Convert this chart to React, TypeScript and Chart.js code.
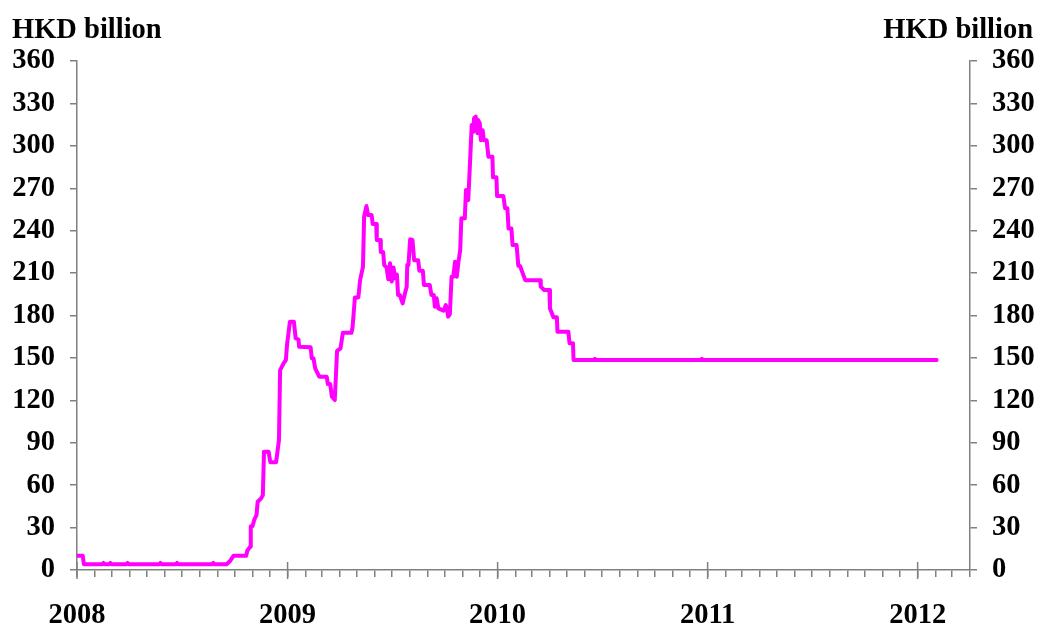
import React, { useEffect, useRef } from "react";
import { Chart, registerables } from "chart.js";

Chart.register(...registerables);

// Aggregate balance (HKD billion)
const dates: string[] = [
  "2008-01-01", "2008-01-11", "2008-01-13", "2008-02-14", "2008-02-16", "2008-02-18",
  "2008-02-26", "2008-02-28", "2008-03-01", "2008-03-27", "2008-03-29", "2008-03-31",
  "2008-05-23", "2008-05-25", "2008-05-27", "2008-06-21", "2008-06-23", "2008-06-25",
  "2008-08-23", "2008-08-25", "2008-08-27", "2008-09-17", "2008-09-23", "2008-09-29",
  "2008-10-21", "2008-10-23", "2008-10-28", "2008-10-29", "2008-11-01", "2008-11-04",
  "2008-11-08", "2008-11-10", "2008-11-16", "2008-11-19", "2008-11-21", "2008-11-29",
  "2008-12-02", "2008-12-12", "2008-12-17", "2008-12-19", "2008-12-25", "2008-12-29",
  "2008-12-31", "2009-01-05", "2009-01-12", "2009-01-15", "2009-01-20", "2009-01-21",
  "2009-02-10", "2009-02-12", "2009-02-15", "2009-02-18", "2009-02-25", "2009-03-10",
  "2009-03-12", "2009-03-16", "2009-03-19", "2009-03-24", "2009-03-28", "2009-04-03",
  "2009-04-07", "2009-04-22", "2009-04-24", "2009-04-28", "2009-05-04", "2009-05-07",
  "2009-05-12", "2009-05-14", "2009-05-18", "2009-05-21", "2009-05-27", "2009-05-29",
  "2009-06-04", "2009-06-05", "2009-06-11", "2009-06-12", "2009-06-16", "2009-06-18",
  "2009-06-22", "2009-06-25", "2009-06-28", "2009-07-01", "2009-07-04", "2009-07-07",
  "2009-07-10", "2009-07-12", "2009-07-15", "2009-07-20", "2009-07-24", "2009-07-27",
  "2009-07-28", "2009-07-30", "2009-08-02", "2009-08-06", "2009-08-09", "2009-08-16",
  "2009-08-18", "2009-08-24", "2009-08-26", "2009-09-05", "2009-09-08", "2009-09-12",
  "2009-09-14", "2009-09-17", "2009-09-20", "2009-09-29", "2009-10-03", "2009-10-06",
  "2009-10-07", "2009-10-10", "2009-10-13", "2009-10-16", "2009-10-19", "2009-10-22",
  "2009-10-25", "2009-10-28", "2009-10-30", "2009-11-05", "2009-11-07", "2009-11-11",
  "2009-11-14", "2009-11-17", "2009-11-20", "2009-11-21", "2009-11-24", "2009-11-27",
  "2009-11-28", "2009-12-01", "2009-12-03", "2009-12-06", "2009-12-08", "2009-12-13",
  "2009-12-16", "2009-12-23", "2009-12-24", "2009-12-30", "2009-12-31", "2010-01-11",
  "2010-01-14", "2010-01-18", "2010-01-20", "2010-01-25", "2010-01-27", "2010-02-03",
  "2010-02-06", "2010-02-09", "2010-02-18", "2010-03-16", "2010-03-17", "2010-03-23",
  "2010-04-01", "2010-04-02", "2010-04-08", "2010-04-14", "2010-04-15", "2010-05-04",
  "2010-05-06", "2010-05-12", "2010-05-13", "2010-06-17", "2010-06-19", "2010-06-21",
  "2010-12-20", "2010-12-22", "2010-12-24", "2012-02-03",
];

const values: number[] = [
  10, 10, 4, 4, 5, 4,
  4, 5, 4, 4, 5, 4,
  4, 5, 4, 4, 5, 4,
  4, 5, 4, 4, 6.4, 10,
  10, 13.6, 16.5, 31, 31, 35.4,
  38.9, 48.3, 50.7, 53, 83.7, 83.7,
  76.2, 76.2, 92, 141.4, 146.2, 148.5,
  159.1, 175.6, 175.6, 163.9, 163, 157.9,
  157.5, 149.7, 149.7, 142.6, 136.7, 136.7,
  131.5, 131.5, 122.6, 120.2, 155, 156.8,
  167.8, 167.8, 172, 192.8, 192.8, 205,
  214.5, 249.9, 257.4, 251, 251, 244.7,
  244.7, 233.4, 233.4, 225, 225, 215.7,
  214, 205.6, 217, 204, 214, 206.3,
  209, 194.5, 194.5, 188.6, 195.7, 200.4,
  215.7, 215.7, 233.9, 233.4, 219, 219,
  211.7, 211.7, 201.6, 201.6, 194.5, 194.5,
  186.2, 192.2, 185, 183.4, 187.4, 182,
  179.2, 181, 207.4, 207.4, 218, 207.4,
  218, 226.3, 248.7, 248.7, 268.7, 261.7,
  287.6, 314.7, 310, 319.5, 320.6, 308.9,
  318.3, 316, 304, 311, 304, 304,
  292.3, 292.3, 277.7, 277.7, 264.5, 264.5,
  255.8, 255.8, 241.6, 241.6, 229.8, 229.8,
  215.2, 215, 205, 205, 200.4, 198,
  198, 185, 178.7, 178.7, 168.5, 168.5,
  160.3, 160.3, 148.5, 148.5, 149.4, 148.5,
  148.5, 149.4, 148.5, 148.5,
];

const axisStart = "2008-01-01";
const axisEnd = "2012-04-01";
const yTicks: number[] = [0, 30, 60, 90, 120, 150, 180, 210, 240, 270, 300, 330, 360];
const yearLabels: string[] = ["2008", "2009", "2010", "2011", "2012"];
const unitLabel = "HKD billion";

const FONT = "'Liberation Serif', 'Times New Roman', serif";
const FONT_SIZE = 28.5;
const AXIS_GRAY = "#808080";

const DAY = 86400000;
const base = Date.UTC(2008, 0, 1);
function toDay(s: string): number {
  const [y, m, d] = s.split("-").map(Number);
  return (Date.UTC(y, m - 1, d) - base) / DAY;
}

function monthStarts(): { value: number; year: number; month: number }[] {
  const out: { value: number; year: number; month: number }[] = [];
  const endV = toDay(axisEnd);
  for (let y = 2008; y <= 2012; y++) {
    for (let m = 0; m < 12; m++) {
      const v = (Date.UTC(y, m, 1) - base) / DAY;
      if (v <= endV) out.push({ value: v, year: y, month: m });
    }
  }
  return out;
}

const overlayPlugin = {
  id: "overlay",
  afterDraw(chart: any) {
    const ctx = chart.ctx;
    const xs = chart.scales.x;
    const area = chart.chartArea;
    ctx.save();
    // longer year ticks crossing the x axis
    ctx.strokeStyle = AXIS_GRAY;
    ctx.lineWidth = 1.5;
    yearLabels.forEach((yl) => {
      const px = xs.getPixelForValue(toDay(yl + "-01-01"));
      ctx.beginPath();
      ctx.moveTo(px, area.bottom - 8);
      ctx.lineTo(px, area.bottom + 9);
      ctx.stroke();
    });
    // unit labels
    ctx.fillStyle = "#000";
    ctx.font = `bold ${FONT_SIZE}px ${FONT}`;
    ctx.textBaseline = "alphabetic";
    ctx.textAlign = "left";
    ctx.fillText(unitLabel, 12, 38);
    ctx.textAlign = "right";
    ctx.fillText(unitLabel, 1033, 38);
    ctx.restore();
  },
};

export default function App() {
  const ref = useRef<HTMLCanvasElement | null>(null);
  useEffect(() => {
    if (!ref.current) return;
    const points = dates.map((d, i) => ({ x: toDay(d), y: values[i] }));
    const months = monthStarts();
    const tickFont = { family: FONT, size: FONT_SIZE, weight: "bold" as const };
    const yCommon = {
      min: 0,
      max: 360,
      afterBuildTicks: (s: any) => {
        s.ticks = yTicks.map((v) => ({ value: v }));
      },
      ticks: { color: "#000", font: tickFont, padding: 15 },
      grid: { drawOnChartArea: false, drawTicks: true, tickLength: 7, color: AXIS_GRAY, lineWidth: 1.5 },
      border: { display: true, color: AXIS_GRAY, width: 1.5 },
    };
    const chart = new Chart(ref.current, {
      type: "line",
      data: {
        datasets: [
          {
            data: points,
            borderColor: "#FF00FF",
            borderWidth: 4,
            borderJoinStyle: "round",
            borderCapStyle: "round",
            pointRadius: 0,
            tension: 0,
            fill: false,
            yAxisID: "y",
          },
        ],
      },
      options: {
        animation: false,
        responsive: false,
        maintainAspectRatio: false,
        devicePixelRatio: 1,
        layout: { padding: { top: 61, left: 0, right: 0, bottom: 0 } },
        plugins: { legend: { display: false }, tooltip: { enabled: false }, title: { display: false } },
        scales: {
          x: {
            type: "linear",
            min: toDay(axisStart),
            max: toDay(axisEnd),
            afterBuildTicks: (s: any) => {
              s.ticks = months.map((m) => ({ value: m.value }));
            },
            afterFit: (s: any) => {
              s.height = 58;
            },
            ticks: {
              color: "#000",
              font: tickFont,
              padding: 22,
              maxRotation: 0,
              autoSkip: false,
              callback: (v: any) => {
                const m = months.find((mm) => Math.abs(mm.value - Number(v)) < 0.01);
                return m && m.month === 0 ? String(m.year) : "";
              },
            },
            grid: { drawOnChartArea: false, drawTicks: true, tickLength: 7, color: AXIS_GRAY, lineWidth: 1.5 },
            border: { display: true, color: AXIS_GRAY, width: 1.5 },
          },
          y: {
            ...yCommon,
            position: "left",
            afterFit: (s: any) => {
              s.width = 77;
            },
          },
          y1: {
            ...yCommon,
            position: "right",
            afterFit: (s: any) => {
              s.width = 70;
            },
          },
        },
      },
      plugins: [overlayPlugin],
    } as any);
    return () => chart.destroy();
  }, []);
  return (
    <div style={{ position: "fixed", left: 0, top: 0, width: 1040, height: 628, background: "#fff" }}>
      <canvas ref={ref} width={1040} height={628} style={{ width: 1040, height: 628, display: "block" }} />
    </div>
  );
}
